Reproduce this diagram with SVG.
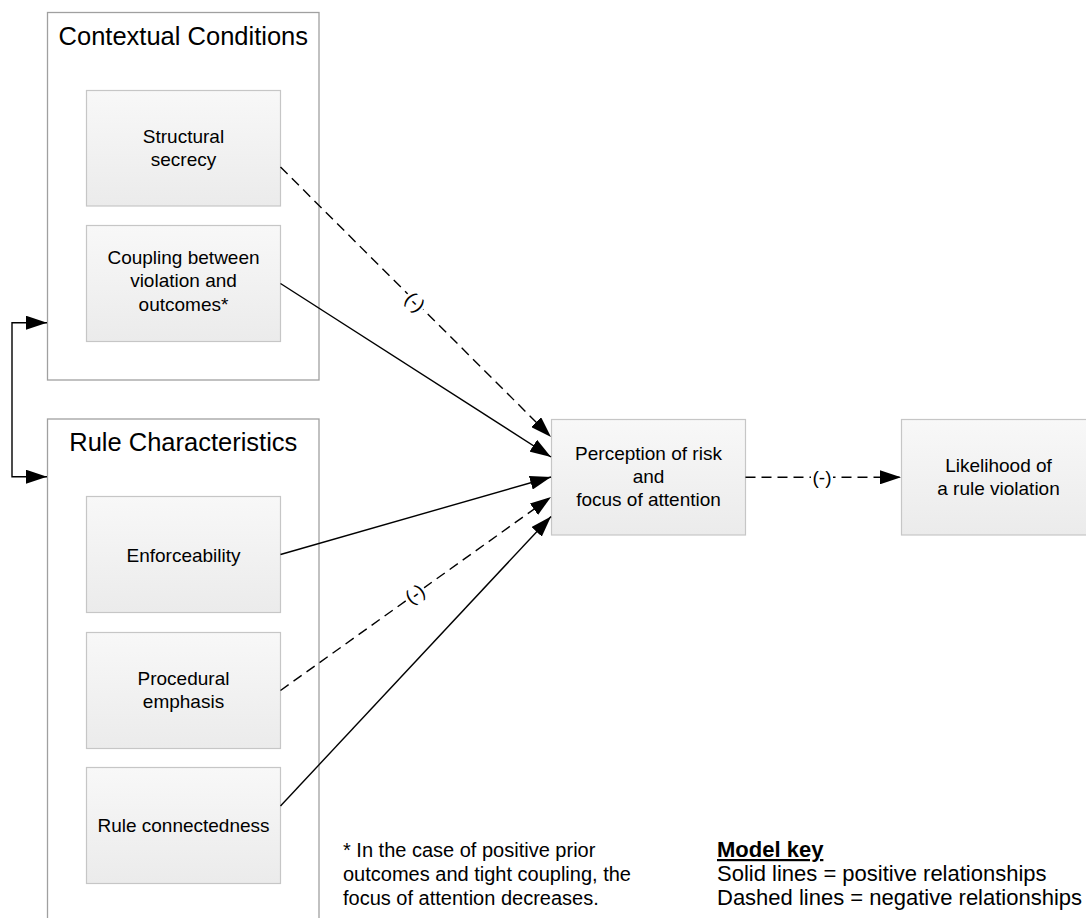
<svg xmlns="http://www.w3.org/2000/svg" width="1086" height="918" viewBox="0 0 1086 918">
<defs>
<linearGradient id="boxfill" x1="0" y1="0" x2="0" y2="1">
<stop offset="0" stop-color="#f8f8f8"/>
<stop offset="1" stop-color="#ebebeb"/>
</linearGradient>
<marker id="arr" markerWidth="21" markerHeight="14" refX="21" refY="7" orient="auto" markerUnits="userSpaceOnUse">
<path d="M0,0 L21,7 L0,14 Z" fill="#000"/>
</marker>
<marker id="arrs" markerWidth="21" markerHeight="14" refX="0" refY="7" orient="auto" markerUnits="userSpaceOnUse">
<path d="M21,0 L0,7 L21,14 Z" fill="#000"/>
</marker>
</defs>
<style>
text { font-family: "Liberation Sans", Arial, sans-serif; fill: #000; }
.container { fill: #fff; stroke: #a0a0a0; stroke-width: 1.3; }
.box { fill: url(#boxfill); stroke: #c6c6c6; stroke-width: 1.2; }
.title { font-size: 25.5px; text-anchor: middle; }
.lbl { font-size: 19px; text-anchor: middle; }
.note { font-size: 20px; }
.key { font-size: 22px; }
.conn { fill: none; stroke: #000; stroke-width: 1.4; }
.solid { marker-end: url(#arr); }
.dashed { stroke-dasharray: 10 6; marker-end: url(#arr); }
.mid { font-size: 19px; text-anchor: middle; }
.bg { fill: #fff; }
</style>
<rect width="1086" height="918" fill="#fff"/>

<g id="contextual-conditions">
<rect class="container" x="47.5" y="12.5" width="271.5" height="367.5"/>
<text class="title" x="183.3" y="45">Contextual Conditions</text>
</g>
<g id="rule-characteristics">
<rect class="container" x="47.5" y="419" width="271.5" height="530"/>
<text class="title" x="183.3" y="451">Rule Characteristics</text>
</g>

<g id="structural-secrecy">
<rect class="box" x="86.5" y="90.5" width="194" height="115.5"/>
<text class="lbl" x="183.5" y="143">Structural</text>
<text class="lbl" x="183.5" y="166">secrecy</text>
</g>
<g id="coupling">
<rect class="box" x="86.5" y="225.5" width="194" height="116"/>
<text class="lbl" x="183.5" y="264">Coupling between</text>
<text class="lbl" x="183.5" y="287.3">violation and</text>
<text class="lbl" x="183.5" y="310.6">outcomes*</text>
</g>
<g id="enforceability">
<rect class="box" x="86.5" y="496.5" width="194" height="116"/>
<text class="lbl" x="183.5" y="561.5">Enforceability</text>
</g>
<g id="procedural-emphasis">
<rect class="box" x="86.5" y="632.5" width="194" height="116"/>
<text class="lbl" x="183.5" y="685">Procedural</text>
<text class="lbl" x="183.5" y="708">emphasis</text>
</g>
<g id="rule-connectedness">
<rect class="box" x="86.5" y="767.5" width="194" height="116"/>
<text class="lbl" x="183.5" y="831.5">Rule connectedness</text>
</g>
<g id="perception">
<rect class="box" x="551.5" y="419.5" width="194" height="115.5"/>
<text class="lbl" x="648.5" y="459.5">Perception of risk</text>
<text class="lbl" x="648.5" y="482.5">and</text>
<text class="lbl" x="648.5" y="505.5">focus of attention</text>
</g>
<g id="likelihood">
<rect class="box" x="901.5" y="419.5" width="194" height="115.5"/>
<text class="lbl" x="998.5" y="472">Likelihood of</text>
<text class="lbl" x="998.5" y="495">a rule violation</text>
</g>

<g id="connectors">
<path class="conn" d="M47,322.7 H12 V476.7 H47" marker-start="url(#arrs)" marker-end="url(#arr)"/>
<line class="conn dashed" x1="280.5" y1="167" x2="551" y2="437"/>
<line class="conn solid" x1="280.5" y1="283.5" x2="551" y2="457"/>
<line class="conn solid" x1="280.5" y1="554.5" x2="551" y2="477"/>
<line class="conn dashed" x1="280.5" y1="690.5" x2="551" y2="497"/>
<line class="conn solid" x1="280.5" y1="806" x2="551" y2="516.5"/>
<line class="conn dashed" x1="745.5" y1="477.3" x2="901" y2="477.3"/>
<g transform="translate(415,302) rotate(45)">
<rect class="bg" x="-11" y="-10" width="22" height="20"/>
<text class="mid" x="0" y="6.5">(-)</text>
</g>
<g transform="translate(415,594) rotate(-35.5)">
<rect class="bg" x="-11" y="-10" width="22" height="20"/>
<text class="mid" x="0" y="6.5">(-)</text>
</g>
<rect class="bg" x="811" y="466" width="22" height="22"/>
<text class="mid" x="822" y="484">(-)</text>
</g>

<g id="footnote">
<text class="note" x="343" y="857">* In the case of positive prior</text>
<text class="note" x="343" y="881">outcomes and tight coupling, the</text>
<text class="note" x="343" y="905">focus of attention decreases.</text>
</g>
<g id="model-key">
<text class="key" x="717" y="857" font-weight="bold" text-decoration="underline">Model key</text>
<text class="key" x="717" y="881">Solid lines = positive relationships</text>
<text class="key" x="717" y="905">Dashed lines = negative relationships</text>
</g>
</svg>
